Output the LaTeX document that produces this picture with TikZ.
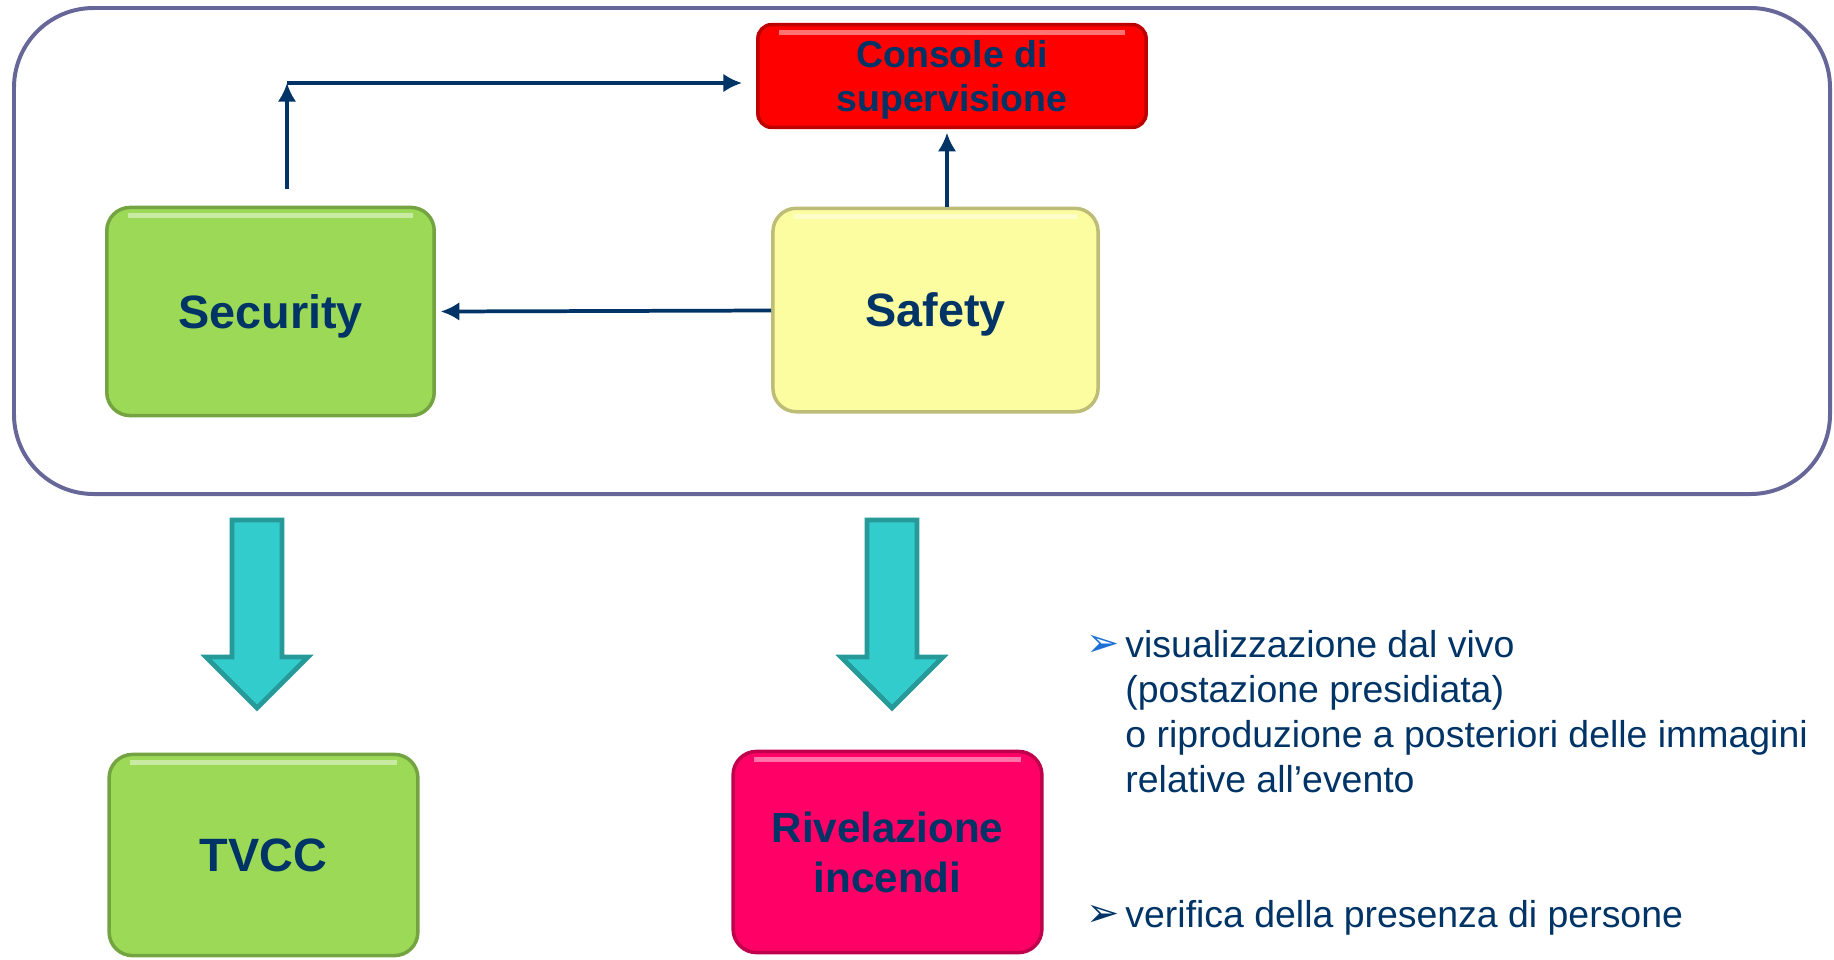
\documentclass[tikz,border=0pt]{standalone}
\usepackage{fontspec}
\setmainfont{Liberation Sans}
\newfontfamily\simboli{DejaVu Sans}
\usepackage{xcolor}
\usepackage{tikz}
\usetikzlibrary{calc, shapes, arrows, arrows.meta, positioning}

\definecolor{blunotte}{HTML}{003366}
\definecolor{cornice}{HTML}{666699}
\definecolor{verde}{HTML}{9BD957}
\definecolor{giallo}{HTML}{FCFCA0}
\definecolor{rosso}{HTML}{FF0000}
\definecolor{fucsia}{HTML}{FF0066}
\definecolor{turchese}{HTML}{33CCCC}
\definecolor{turchesescuro}{HTML}{269999}
\definecolor{blupunta}{HTML}{1A6FD6}

\tikzset{
 blocco/.style={draw=#1!75!black, fill=#1, line width=1.5pt, rounded corners=10pt,
  inner sep=0pt, align=center, text=blunotte, text depth=0pt,
  font=\bfseries\fontsize{20}{24}\selectfont,
  path picture={\draw[white, opacity=0.45, line width=2pt]
   ([xshift=9pt,yshift=-3.5pt]path picture bounding box.north west) --
   ([xshift=-9pt,yshift=-3.5pt]path picture bounding box.north east);}},
 freccia/.style={draw=blunotte, line width=1.6pt, -{Latex[length=8pt,width=8pt]}},
 frecciona/.style={draw=turchesescuro, fill=turchese, line width=2pt, line join=miter},
 voce/.style={anchor=north west, align=left, inner sep=0pt, text=blunotte,
  font=\fontsize{16}{19.2}\selectfont},
 punta/.style={anchor=base west, inner sep=0pt, font=\simboli\fontsize{17}{19}\selectfont}
}

\begin{document}
\begin{tikzpicture}[x=0.4275pt, y=-0.4275pt]
\useasboundingbox (0,0) rectangle (1834,959);

% cornice esterna
\draw[cornice, line width=1.7pt, rounded corners=34pt] (14,8) rectangle (1830,494);

\node[blocco=verde, minimum width=140pt, minimum height=89pt] (security) at (270.5,311.5) {Security};
\node[blocco=giallo, minimum width=139pt, minimum height=87pt] (safety) at (935.5,310) {Safety};
\node[blocco=rosso, minimum width=166pt, minimum height=44pt, rounded corners=6pt,
 font=\bfseries\fontsize{16}{19}\selectfont] (console) at (952,76) {Console di\\supervisione};
\node[blocco=verde, minimum width=132pt, minimum height=86pt] (tvcc) at (263.5,855) {TVCC};
\node[blocco=fucsia, minimum width=132pt, minimum height=86pt,
 font=\bfseries\fontsize{18}{21.6}\selectfont] (rivelazione) at (887.5,852) {Rivelazione\\incendi};

% frecce di collegamento
\coordinate (piede) at (287,189);
\coordinate (gomito) at (287,83);
\coordinate (asse) at (947,0);
\path[freccia] (safety) -- ([xshift=2pt]security.east);
\path[freccia] (piede) -- (gomito);
\path[freccia] (gomito) -- ([xshift=-6pt]gomito -| console.west);
\path[freccia] (safety.north -| asse) -- ([yshift=-1.5pt]console.south -| asse);

% frecce larghe
\foreach \cx in {257,892}
 \draw[frecciona] (\cx-25,520) -- (\cx+25,520) -- (\cx+25,657) -- (\cx+51,657)
  -- (\cx,708) -- (\cx-51,657) -- (\cx-25,657) -- cycle;

% elenco
\node[punta, text=blupunta] (punta1) at (1086,656) {➢};
\node[voce] (voce1) at (1125,630) {visualizzazione dal vivo\\(postazione presidiata)\\o riproduzione a posteriori delle immagini\\relative all’evento};
\node[punta, text=blunotte] (punta2) at (1086,926) {➢};
\node[voce] (voce2) at (1125,900) {verifica della presenza di persone};
\end{tikzpicture}
\end{document}
